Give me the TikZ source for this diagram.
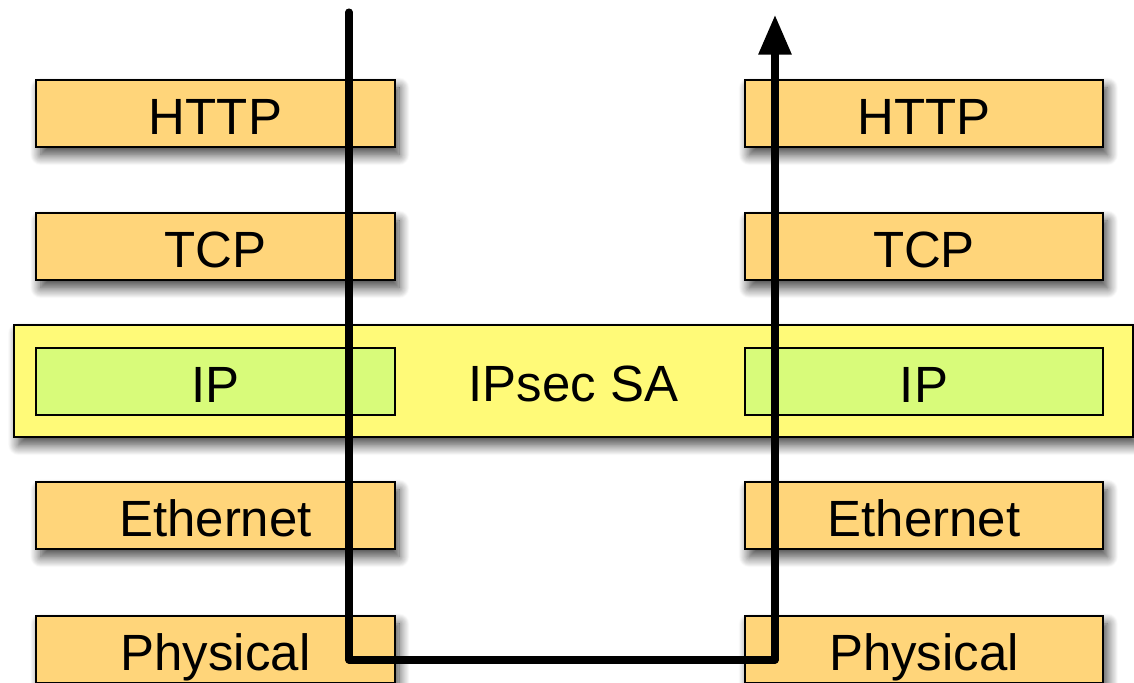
\documentclass[tikz,border=0pt]{standalone}
\usepackage{fontspec}
\setmainfont{Liberation Sans}
\usetikzlibrary{arrows.meta,shadows.blur}
\definecolor{layerorange}{RGB}{255,213,122}
\definecolor{saYellow}{RGB}{255,250,120}
\definecolor{ipGreen}{RGB}{216,251,122}
\tikzset{
  softshadow/.style={blur shadow={shadow xshift=2.5pt, shadow yshift=-4.5pt,
      shadow blur steps=14, shadow blur radius=6pt, shadow opacity=75}},
  % cap height of 29pt Liberation Sans is about 20.8pt; the extra height
  % lowers the capitals a little below the box centre
  boxbase/.style={draw=black, line width=0.9pt, inner sep=0pt,
      minimum width=7.17cm, minimum height=1.34cm,
      font=\fontsize{29}{34}\selectfont, text height=23.6pt, text depth=0pt},
  layer/.style={boxbase, fill=layerorange, softshadow},
  iplayer/.style={boxbase, fill=ipGreen},
  sabox/.style={boxbase, fill=saYellow, softshadow,
      minimum width=22.38cm, minimum height=2.24cm},
  flow/.style={line width=4pt, line cap=round, line join=round,
      -{Triangle[length=22.5pt, width=18pt]}}
}
\begin{document}
\begin{tikzpicture}[x=0.02cm, y=-0.02cm]
  \useasboundingbox (0,0) rectangle (1134,683);

  % security association spanning both hosts
  \node[sabox] (sa) at (573.5,381) {IPsec SA};

  % left protocol stack
  \node[layer]   (lhttp) at (215.5,113.5) {HTTP};
  \node[layer]   (ltcp)  at (215.5,246.5) {TCP};
  \node[iplayer] (lip)   at (215.5,381.5) {IP};
  \node[layer]   (leth)  at (215.5,515.5) {Ethernet};
  \node[layer]   (lphy)  at (215.5,649.5) {Physical};

  % right protocol stack
  \node[layer]   (rhttp) at (924,113.5) {HTTP};
  \node[layer]   (rtcp)  at (924,246.5) {TCP};
  \node[iplayer] (rip)   at (924,381.5) {IP};
  \node[layer]   (reth)  at (924,515.5) {Ethernet};
  \node[layer]   (rphy)  at (924,649.5) {Physical};

  % data path down one stack, across, and up the other
  \coordinate (src)  at (349,12);
  \coordinate (wire) at (562,660);
  \coordinate (dst)  at (775,15);
  \draw[flow] (src) |- (wire) -| (dst);
\end{tikzpicture}
\end{document}
